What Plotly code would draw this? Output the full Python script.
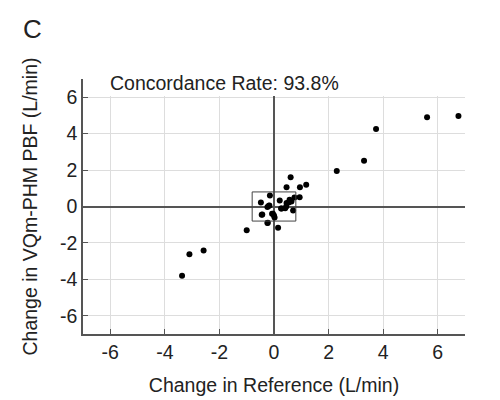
import plotly.graph_objects as go

# Change in reference vs change in VQm-PHM PBF (L/min)
ref_change = [-3.37, -3.10, -2.58, -1.00, 0.15, -0.24, -0.45, -0.07, 0.00, 0.70,
              -0.48, -0.19, -0.24, 0.21, 0.26, 0.45, 0.54, 0.61, 0.46, 0.95,
              1.18, -0.15, 0.75, 0.94, 0.57, 0.64, 0.46, -0.17, 0.28, 0.41,
              -0.43, -0.04, 0.02, -0.23, 2.30, 3.30, 3.74, 5.61, 6.76]
vqm_change = [-3.80, -2.62, -2.42, -1.31, -1.16, -0.91, -0.45, -0.40, -0.49, -0.22,
              0.22, 0.04, -0.03, 0.33, -0.11, 0.00, 0.22, 1.60, 1.06, 1.06,
              1.20, 0.60, 0.49, 0.51, 0.37, 0.27, 0.19, 0.05, -0.11, -0.09,
              -0.44, -0.40, -0.60, -0.89, 1.95, 2.51, 4.25, 4.90, 4.97]
exclusion_zone = 0.8
tick_vals = [-6, -4, -2, 0, 2, 4, 6]
tick_text = ["-6", "-4", "-2", "0", "2", "4", "6"]
concordance_rate = 93.8

font = "Liberation Sans, Arial, sans-serif"
axis_color = "#555555"
text_color = "#222222"
fs = 19.5

# page has an 8px body margin, so the figure is shrunk by that much
off = 8
W, H = 500 - off, 400 - off
ml, mr, mt, mb = 83 - off, 35, 79 - off, 66
pw, ph = W - ml - mr, H - mt - mb


def px_to_paper(px, py):
    # page pixel -> paper coords
    return (px - off - ml) / pw, 1 - (py - off - mt) / ph


fig = go.Figure()
fig.add_trace(go.Scatter(x=ref_change, y=vqm_change, mode="markers",
                         marker=dict(color="black", size=6), showlegend=False))

# exclusion zone box
fig.add_shape(type="rect", x0=-exclusion_zone, x1=exclusion_zone,
              y0=-exclusion_zone, y1=exclusion_zone,
              line=dict(color="#444444", width=1))

# strip above the top gridline is blank in the original (title band)
fig.add_shape(type="rect", xref="paper", yref="y", x0=0.005, x1=1.0,
              y0=tick_vals[-1] + 0.06, y1=7.5, layer="above",
              fillcolor="white", line=dict(width=0))

ax, ay = px_to_paper(108, 83)
fig.add_annotation(x=ax, y=ay, xref="paper", yref="paper",
                   xanchor="left", yanchor="middle",
                   text=f"Concordance Rate: {concordance_rate}%", showarrow=False,
                   font=dict(size=fs, color=text_color, family=font))
# panel label
cx, cy = px_to_paper(32, 29)
fig.add_annotation(x=cx, y=cy, xref="paper", yref="paper",
                   xanchor="center", yanchor="middle", showarrow=False,
                   text="C", font=dict(size=26, color=text_color, family=font))

axis_common = dict(range=[-7, 7], tickvals=tick_vals, ticktext=tick_text,
                   showgrid=True, gridcolor="#dddddd", gridwidth=1,
                   zeroline=True, zerolinecolor=axis_color, zerolinewidth=1.5,
                   showline=True, linecolor=axis_color, linewidth=1.5, mirror=False,
                   ticks="inside", ticklen=5, tickcolor=axis_color, automargin=False,
                   tickfont=dict(size=fs, color=text_color, family=font))

fig.update_xaxes(**axis_common,
                 title=dict(text="Change in Reference (L/min)",
                            font=dict(size=fs, color=text_color, family=font), standoff=16))
fig.update_yaxes(**axis_common,
                 title=dict(text="Change in VQm-PHM PBF (L/min)",
                            font=dict(size=fs, color=text_color, family=font), standoff=17))

fig.update_layout(width=W, height=H, plot_bgcolor="white", paper_bgcolor="white",
                  margin=dict(l=ml, r=mr, t=mt, b=mb))

fig.write_html("out.html")
